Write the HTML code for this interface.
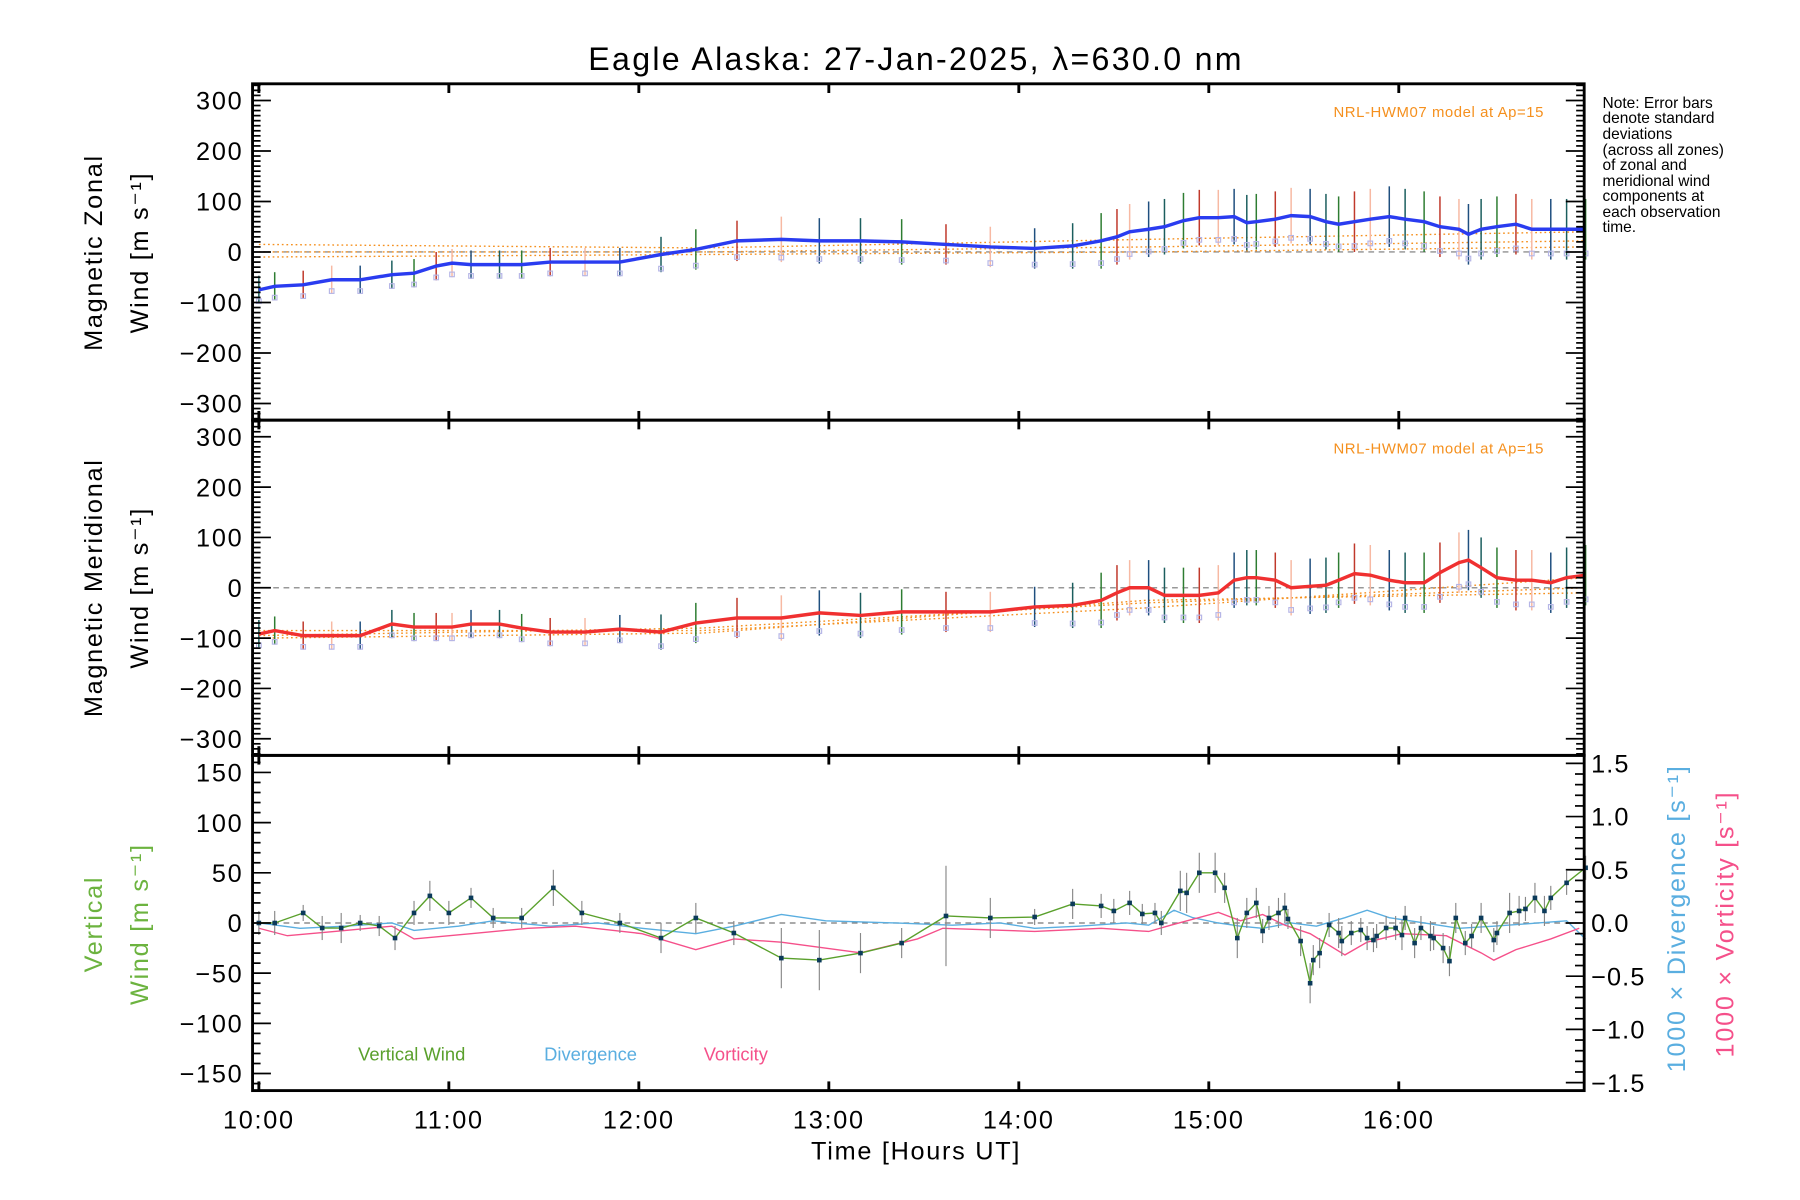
<!DOCTYPE html>
<html><head><meta charset="utf-8"><style>
html,body{margin:0;padding:0;background:#fff}
svg{display:block}
text{font-family:"Liberation Sans",sans-serif}
</style></head><body>
<svg id="chart" width="1800" height="1200" viewBox="0 0 1568 1045.3" preserveAspectRatio="none" xmlns="http://www.w3.org/2000/svg">
<rect width="1568" height="1046" fill="#fff"/>
<text x="798" y="61" font-size="28" letter-spacing="2" text-anchor="middle">Eagle Alaska: 27-Jan-2025, λ=630.0 nm</text>
<g id="notes" font-size="13.5">
<text x="1396" y="94">Note: Error bars</text><text x="1396" y="107">denote standard</text>
<text x="1396" y="121">deviations</text><text x="1396" y="135">(across all zones)</text>
<text x="1396" y="148">of zonal and</text><text x="1396" y="162">meridional wind</text>
<text x="1396" y="175">components at</text><text x="1396" y="189">each observation</text>
<text x="1396" y="202">time.</text>
</g>
<g id="layer"></g>
</svg>
<script>
// ---- data (time in minutes after 10:00 UT) ----
const zonalTimes=[0,5,14,23,32,42,49,56,61,67,76,83,92,103,114,127,138,151,165,177,190,203,217,231,245,257,266,271,275,281,286,292,297,303,308,312,315,321,326,332,337,341,346,351,357,362,368,373,379,382,386,391,397,402,408,413,419];
const zonalValues=[-75,-68,-65,-55,-55,-45,-42,-28,-22,-25,-25,-25,-20,-20,-20,-5,5,22,25,22,22,20,15,10,7,12,22,30,40,45,50,62,68,68,70,58,60,65,72,70,60,55,60,65,70,65,60,50,45,35,45,50,55,45,45,45,45];
const zonalErr=[28,28,28,28,28,28,28,28,28,28,28,28,28,28,28,35,40,40,45,45,45,45,40,40,40,45,55,55,55,55,55,55,55,55,55,55,55,55,55,55,55,55,60,60,60,60,60,60,60,60,60,60,60,60,60,60,60];
const meridTimes=zonalTimes.slice();
const meridValues=[-92,-85,-95,-95,-95,-72,-78,-78,-78,-72,-72,-80,-88,-88,-82,-88,-70,-60,-60,-50,-55,-48,-48,-48,-38,-35,-25,-10,0,0,-15,-15,-15,-10,15,20,20,15,0,3,5,15,28,25,15,10,10,30,50,55,40,20,15,15,10,20,25];
const meridErr=zonalErr.slice();
const modelZonal=[[0,15],[140,8],[280,25],[419,40]];
const modelZonal2=[[0,0],[140,0],[280,10],[419,22]];
const modelZonal3=[[0,-10],[140,-5],[280,0],[419,10]];
const modelMerid=[[0,-85],[140,-85],[280,-40],[419,20]];
const modelMerid2=[[0,-95],[140,-80],[280,-30],[419,0]];
const modelMerid3=[[0,-100],[140,-90],[280,-25],[419,-10]];
const vertTimes=[0,5,14,20,26,32,38,43,49,54,60,67,74,83,93,102,114,127,138,150,165,177,190,203,217,231,245,257,266,270,275,279,283,285,291,293,297,302,305,309,312,315,317,319,322,324,325,329,332,333,335,338,341,342,345,348,350,352,353,356,359,361,362,365,367,370,371,374,376,378,381,383,386,390,391,395,398,400,403,406,408,413,419];
const vertValues=[0,0,10,-5,-5,0,-3,-15,10,27,10,25,5,5,35,10,0,-15,5,-10,-35,-37,-30,-20,7,5,6,19,17,12,20,9,10,0,32,30,50,50,35,-15,10,20,-8,5,10,15,4,-18,-60,-37,-30,-2,-10,-18,-10,-7,-15,-17,-13,-5,-5,-12,5,-20,-5,-13,-15,-25,-38,5,-20,-13,5,-17,-10,10,12,14,25,12,25,40,55];
const vertErr=[12,12,8,12,15,8,10,12,12,15,12,10,10,10,18,12,10,15,15,12,30,30,20,15,50,20,8,15,12,12,12,10,10,12,20,20,20,20,15,20,15,15,12,12,15,15,10,15,20,15,15,12,15,15,12,12,12,12,12,12,12,15,12,15,12,15,12,15,15,15,12,12,15,12,12,20,15,12,15,15,12,12,12];
const divTimes=[0,13,27,42,49,63,74,92,107,121,138,150,165,179,201,219,234,245,259,274,281,289,295,303,310,317,326,334,343,350,357,368,379,390,404,413,419];
const divValues=[0,-0.05,-0.03,0,-0.07,-0.03,0.02,-0.03,0,-0.05,-0.1,-0.03,0.08,0.02,0,-0.02,0,-0.05,-0.03,0,-0.02,0.12,0.05,0,-0.03,-0.05,0,-0.03,0.05,0.12,0.05,0,-0.05,-0.03,0,0.02,-0.15];
const vortTimes=[0,9,24,42,49,67,85,100,121,138,150,165,190,208,216,245,266,281,288,303,310,317,324,332,343,350,361,375,386,390,397,408,417];
const vortValues=[-0.05,-0.12,-0.08,-0.03,-0.15,-0.1,-0.05,-0.03,-0.1,-0.25,-0.15,-0.18,-0.28,-0.15,-0.05,-0.08,-0.05,-0.08,-0.02,0.1,0.02,0.08,-0.02,-0.1,-0.3,-0.18,-0.1,-0.12,-0.28,-0.35,-0.25,-0.15,-0.05];
const hourLabels=["10:00","11:00","12:00","13:00","14:00","15:00","16:00"];
const windTicks=[300,200,100,0,-100,-200,-300];
const vertTicks=[150,100,50,0,-50,-100,-150];
const divTicks=["1.5","1.0","0.5","0.0","-0.5","-1.0","-1.5"];

// ---- geometry ----
const L=220,R=1380,panels=[[73,366],[366,658],[658,950]];
const x=m=>225.5+m*165.5/60;
function yw(p,v,lim){const [t,b]=panels[p];return (t+b)/2 - v*((b-t)/2)/lim;}
const yZ=v=>yw(0,v,333), yM=v=>yw(1,v,333), yV=v=>yw(2,v,167), yD=v=>yw(2,v,1.575);
const NS="http://www.w3.org/2000/svg", layer=document.getElementById('layer');
function el(tag,attrs,parent){const e=document.createElementNS(NS,tag);for(const k in attrs)e.setAttribute(k,attrs[k]);(parent||layer).appendChild(e);return e;}
function poly(ts,vs,yf,attrs){return el('polyline',Object.assign({points:ts.map((t,i)=>x(t).toFixed(1)+','+yf(vs[i]).toFixed(1)).join(' '),fill:'none'},attrs));}
const fmt=v=>String(v).replace('-','−');

// zero lines
[[yZ,0],[yM,1],[yV,2]].forEach(([f])=>{el('line',{x1:L,x2:R,y1:f(0),y2:f(0),stroke:'#777','stroke-dasharray':'5,4','stroke-width':1});});

// model lines
const models=[[modelZonal,yZ],[modelZonal2,yZ],[modelZonal3,yZ],[modelMerid,yM],[modelMerid2,yM],[modelMerid3,yM]];
models.forEach(([pts,f])=>{const ml=el('polyline',{points:pts.map(p=>x(p[0])+','+f(p[1])).join(' '),fill:'none',stroke:'#f5901e','stroke-width':1.2,'stroke-dasharray':'1.5,2.5'});

});

// error bars zonal / merid
function errbars(ts,vs,es,f,name){const colors=['#1b5e5e','#2e7d32','#c0392b','#f7b9a3','#1f4f7f'];
ts.forEach((t,i)=>{const l=el('line',{x1:x(t),x2:x(t),y1:f(vs[i]-es[i]),y2:f(vs[i]+es[i]),stroke:colors[i%colors.length],'stroke-width':1.3});


const s=el('rect',{x:x(t)-2,y:f(vs[i]-es[i]*0.8)-2,width:4,height:4,fill:'none',stroke:'#b5b5e6','stroke-width':1});

});}
errbars(zonalTimes,zonalValues,zonalErr,yZ,'zonal-error-bar');
errbars(meridTimes,meridValues,meridErr,yM,'meridional-error-bar');
const zl=poly(zonalTimes,zonalValues,yZ,{stroke:'#2a3cf0','stroke-width':3});


const mlr=poly(meridTimes,meridValues,yM,{stroke:'#f03030','stroke-width':3});



// vertical panel
const dl=poly(divTimes,divValues,yD,{stroke:'#5aaee0','stroke-width':1.2});


const vl=poly(vortTimes,vortValues,yD,{stroke:'#f5508a','stroke-width':1.2});


vertTimes.forEach((t,i)=>{const l=el('line',{x1:x(t),x2:x(t),y1:yV(vertValues[i]-vertErr[i]),y2:yV(vertValues[i]+vertErr[i]),stroke:'#888','stroke-width':1});

});
const gl=poly(vertTimes,vertValues,yV,{stroke:'#5aa02c','stroke-width':1.2});


vertTimes.forEach((t,i)=>{const p=el('rect',{x:x(t)-2,y:yV(vertValues[i])-2,width:4,height:4,fill:'#0b3a5a'});

});

// frames & ticks
panels.forEach(([t,b],pi)=>{const fr=el('rect',{x:L,y:t,width:R-L,height:b-t,fill:'none',stroke:'#000','stroke-width':2.5});


hourLabels.forEach((h,i)=>{const xx=x(i*60);el('line',{x1:xx,x2:xx,y1:b,y2:b-8,stroke:'#000','stroke-width':2.5});el('line',{x1:xx,x2:xx,y1:t,y2:t+8,stroke:'#000','stroke-width':2.5});});
const f=pi==0?yZ:pi==1?yM:yV, lim=pi<2?330:160, step=10, maj=pi<2?100:50;
for(let v=-lim;v<=lim;v+=step){const yy=f(v),big=v%maj==0,len=big?16:7;
el('line',{x1:L,x2:L+len,y1:yy,y2:yy,stroke:'#000','stroke-width':1.5});
if(pi<2)el('line',{x1:R,x2:R-len,y1:yy,y2:yy,stroke:'#000','stroke-width':1.5});}
});
windTicks.forEach(v=>{[[yZ,'zonal'],[yM,'meridional']].forEach(([f,n])=>{const tx=el('text',{x:212,y:f(v)+8,'font-size':22,'letter-spacing':1.5,'text-anchor':'end'});tx.textContent=fmt(v);

});});
vertTicks.forEach(v=>{const tx=el('text',{x:212,y:yV(v)+8,'font-size':22,'letter-spacing':1.5,'text-anchor':'end'});tx.textContent=fmt(v);

});
for(let k=-15;k<=15;k++){const v=k/10,yy=yD(v),big=k%5==0;el('line',{x1:R,x2:R-(big?16:8),y1:yy,y2:yy,stroke:'#000','stroke-width':1.5});}
divTicks.forEach(s=>{const tx=el('text',{x:1386,y:yD(parseFloat(s))+8,'font-size':22,'letter-spacing':1});tx.textContent=fmt(s);

});
hourLabels.forEach((h,i)=>{const tx=el('text',{x:x(i*60),y:983,'font-size':22,'letter-spacing':1.5,'text-anchor':'middle'});tx.textContent=h;

});

// labels
function txt(s,a,name,rot){const t=el('text',a);t.textContent=s;if(rot)t.setAttribute('transform',rot);

return t;}
txt('Time [Hours UT]',{x:798,y:1010,'font-size':22,'letter-spacing':1.5,'text-anchor':'middle'},'x-axis-title');
txt('Magnetic Zonal',{x:0,y:0,'font-size':22,'text-anchor':'middle','letter-spacing':1.5},'zonal-y-title','translate(89,220) rotate(-90)');
txt('Wind [m s⁻¹]',{x:0,y:0,'font-size':22,'text-anchor':'middle','letter-spacing':1.5},'zonal-y-title-2','translate(129,220) rotate(-90)');
txt('Magnetic Meridional',{x:0,y:0,'font-size':22,'text-anchor':'middle','letter-spacing':1.5},'meridional-y-title','translate(89,512) rotate(-90)');
txt('Wind [m s⁻¹]',{x:0,y:0,'font-size':22,'text-anchor':'middle','letter-spacing':1.5},'meridional-y-title-2','translate(129,512) rotate(-90)');
txt('Vertical',{x:0,y:0,'font-size':22,'text-anchor':'middle','letter-spacing':1.5,fill:'#6cb33f'},'vertical-y-title','translate(89,805) rotate(-90)');
txt('Wind [m s⁻¹]',{x:0,y:0,'font-size':22,'text-anchor':'middle','letter-spacing':1.5,fill:'#6cb33f'},'vertical-y-title-2','translate(129,805) rotate(-90)');
txt('1000 × Divergence [s⁻¹]',{x:0,y:0,'font-size':22,'text-anchor':'middle','letter-spacing':1.5,fill:'#5aaee0'},'divergence-axis-title','translate(1468,800) rotate(-90)');
txt('1000 × Vorticity [s⁻¹]',{x:0,y:0,'font-size':22,'text-anchor':'middle','letter-spacing':1.5,fill:'#f5508a'},'vorticity-axis-title','translate(1510,805) rotate(-90)');
txt('NRL-HWM07 model at Ap=15',{x:1345,y:102,'font-size':13,'letter-spacing':0.5,'text-anchor':'end',fill:'#f5901e'},'model-label-zonal');
txt('NRL-HWM07 model at Ap=15',{x:1345,y:395,'font-size':13,'letter-spacing':0.5,'text-anchor':'end',fill:'#f5901e'},'model-label-meridional');
txt('Vertical Wind',{x:312,y:924,'font-size':16,fill:'#5aa02c'},'legend-vertical-wind');
txt('Divergence',{x:474,y:924,'font-size':16,fill:'#5aaee0'},'legend-divergence');
txt('Vorticity',{x:613,y:924,'font-size':16,fill:'#f5508a'},'legend-vorticity');
</script>
</body></html>
